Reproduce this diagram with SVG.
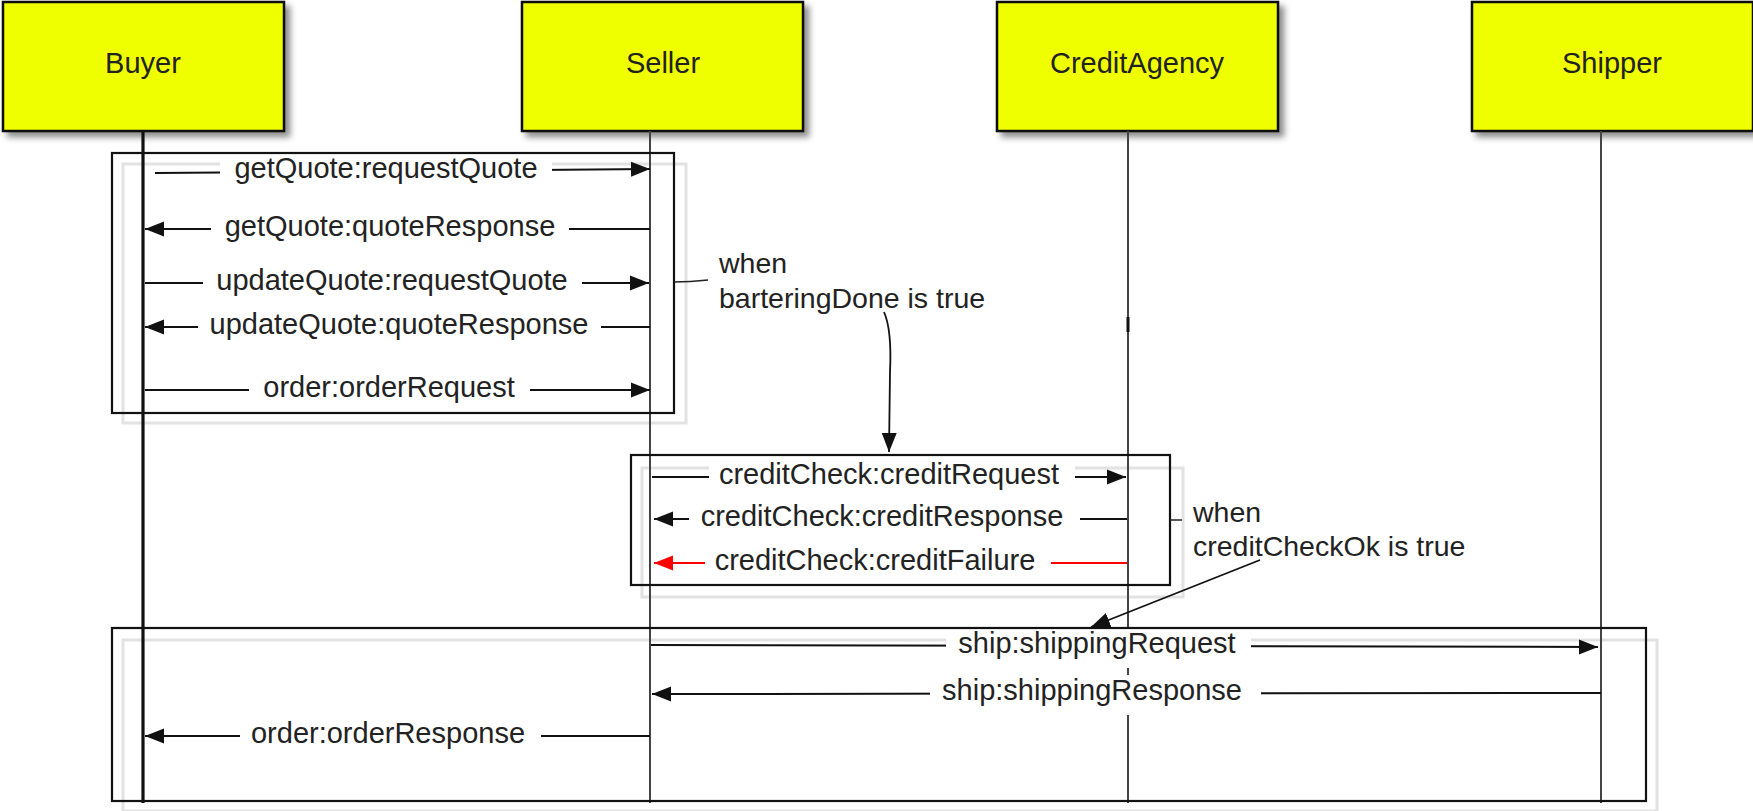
<svg xmlns="http://www.w3.org/2000/svg" width="1753" height="811" viewBox="0 0 1753 811">
<style>
.node rect.box{fill:#f0ff00;stroke:#111;stroke-width:2.5}
.lbl{font-family:"Liberation Sans",Arial,sans-serif;font-size:29px;fill:#222;text-anchor:middle}
.note{font-family:"Liberation Sans",Arial,sans-serif;font-size:28.5px;fill:#222}
.life{stroke:#444;stroke-width:2;fill:none}
.frame{fill:none;stroke:#111;stroke-width:2.2}
.shadow{fill:none;stroke:#e2e2e2;stroke-width:3}
.msg{stroke:#111;stroke-width:2;fill:none}
.bg{fill:#fff}
</style>
<defs>
<filter id="ds" x="-10%" y="-10%" width="130%" height="130%">
<feDropShadow dx="5" dy="5" stdDeviation="3" flood-color="#000" flood-opacity="0.45"/>
</filter>
<marker id="ah" markerUnits="userSpaceOnUse" markerWidth="20" markerHeight="16" refX="19" refY="8" orient="auto">
<path d="M0,0.5 L19,8 L0,15.5 z" fill="#111"/>
</marker>
<marker id="ahr" markerUnits="userSpaceOnUse" markerWidth="20" markerHeight="16" refX="19" refY="8" orient="auto">
<path d="M0,0.5 L19,8 L0,15.5 z" fill="#f00"/>
</marker>
</defs>
<rect width="1753" height="811" fill="#fff"/>

<!-- frame shadows -->
<g id="frame-shadows">
<rect class="shadow" x="123" y="164" width="563" height="259"/>
<rect class="shadow" x="642" y="468" width="541" height="129"/>
<rect class="shadow" x="123" y="640" width="1534" height="171"/>
</g>

<!-- nodes -->
<g id="buyer" class="node">
<rect class="box" x="3" y="2" width="281" height="129" filter="url(#ds)"/>
<text class="lbl" x="143" y="73">Buyer</text>
<line x1="143" y1="131" x2="143" y2="803" stroke="#111" stroke-width="3.2"/>
</g>
<g id="seller" class="node">
<rect class="box" x="522" y="2" width="281" height="129" filter="url(#ds)"/>
<text class="lbl" x="663" y="73">Seller</text>
<line class="life" x1="650" y1="131" x2="650" y2="803"/>
</g>
<g id="creditagency" class="node">
<rect class="box" x="997" y="2" width="281" height="129" filter="url(#ds)"/>
<text class="lbl" x="1137" y="73">CreditAgency</text>
<line class="life" x1="1128" y1="131" x2="1128" y2="803"/>
<rect x="1126.5" y="317" width="3" height="15" fill="#111"/>
</g>
<g id="shipper" class="node">
<rect class="box" x="1472" y="2" width="281" height="129" filter="url(#ds)"/>
<text class="lbl" x="1612" y="73">Shipper</text>
<line class="life" x1="1601" y1="131" x2="1601" y2="803"/>
</g>

<!-- connectors -->
<g id="connectors">
<line class="msg" x1="155" y1="173" x2="650" y2="169" marker-end="url(#ah)"/>
<line class="msg" x1="650" y1="229" x2="145" y2="229" marker-end="url(#ah)"/>
<line class="msg" x1="145" y1="283" x2="649" y2="283" marker-end="url(#ah)"/>
<line class="msg" x1="650" y1="327" x2="145" y2="327" marker-end="url(#ah)"/>
<line class="msg" x1="145" y1="390" x2="650" y2="390" marker-end="url(#ah)"/>
<line class="msg" x1="652" y1="477" x2="1126" y2="477" marker-end="url(#ah)"/>
<line class="msg" x1="1127" y1="519" x2="654" y2="519" marker-end="url(#ah)"/>
<line x1="1127" y1="563" x2="654" y2="563" stroke="#f00" stroke-width="2" marker-end="url(#ahr)"/>
<line class="msg" x1="651" y1="645" x2="1598" y2="647" marker-end="url(#ah)"/>
<line class="msg" x1="1601" y1="693" x2="652" y2="694" marker-end="url(#ah)"/>
<line class="msg" x1="650" y1="736" x2="145" y2="736" marker-end="url(#ah)"/>
</g>

<!-- message labels -->
<g id="labels">
<rect class="bg" x="220" y="151" width="332" height="40"/>
<text class="lbl" x="386" y="178">getQuote:requestQuote</text>
<rect class="bg" x="211" y="211" width="358" height="40"/>
<text class="lbl" x="390" y="236">getQuote:quoteResponse</text>
<rect class="bg" x="203" y="265" width="379" height="40"/>
<text class="lbl" x="392" y="290">updateQuote:requestQuote</text>
<rect class="bg" x="198" y="309" width="403" height="40"/>
<text class="lbl" x="399" y="334">updateQuote:quoteResponse</text>
<rect class="bg" x="249" y="372" width="281" height="36"/>
<text class="lbl" x="389" y="397">order:orderRequest</text>
<rect class="bg" x="709" y="460" width="366" height="38"/>
<text class="lbl" x="889" y="484">creditCheck:creditRequest</text>
<rect class="bg" x="689" y="501" width="391" height="40"/>
<text class="lbl" x="882" y="526">creditCheck:creditResponse</text>
<rect class="bg" x="705" y="545" width="346" height="38"/>
<text class="lbl" x="875" y="570">creditCheck:creditFailure</text>
<rect class="bg" x="946" y="628" width="305" height="40"/>
<text class="lbl" x="1097" y="653">ship:shippingRequest</text>
<rect class="bg" x="930" y="675" width="331" height="40"/>
<text class="lbl" x="1092" y="700">ship:shippingResponse</text>
<rect class="bg" x="240" y="718" width="301" height="38"/>
<text class="lbl" x="388" y="743">order:orderResponse</text>
</g>

<!-- frames -->
<g id="frames">
<rect class="frame" x="112" y="153" width="562" height="260"/>
<rect class="frame" x="631" y="455" width="539" height="130"/>
<rect class="frame" x="112" y="628" width="1534" height="173"/>
</g>

<!-- annotations -->
<g id="annotation-bartering">
<path d="M674,282 Q690,282 708,280" fill="none" stroke="#222" stroke-width="1.5"/>
<text class="note" x="719" y="273">when</text>
<text class="note" x="719" y="308">barteringDone is true</text>
<path d="M884,312 Q892,330 890,372 L889,452" fill="none" stroke="#111" stroke-width="1.8" marker-end="url(#ah)"/>
</g>
<g id="annotation-creditcheck">
<line x1="1170" y1="520" x2="1182" y2="520" stroke="#222" stroke-width="1.5"/>
<text class="note" x="1193" y="522">when</text>
<text class="note" x="1193" y="556">creditCheckOk is true</text>
<line x1="1260" y1="560" x2="1091" y2="627" stroke="#111" stroke-width="1.8" marker-end="url(#ah)"/>
</g>
</svg>
